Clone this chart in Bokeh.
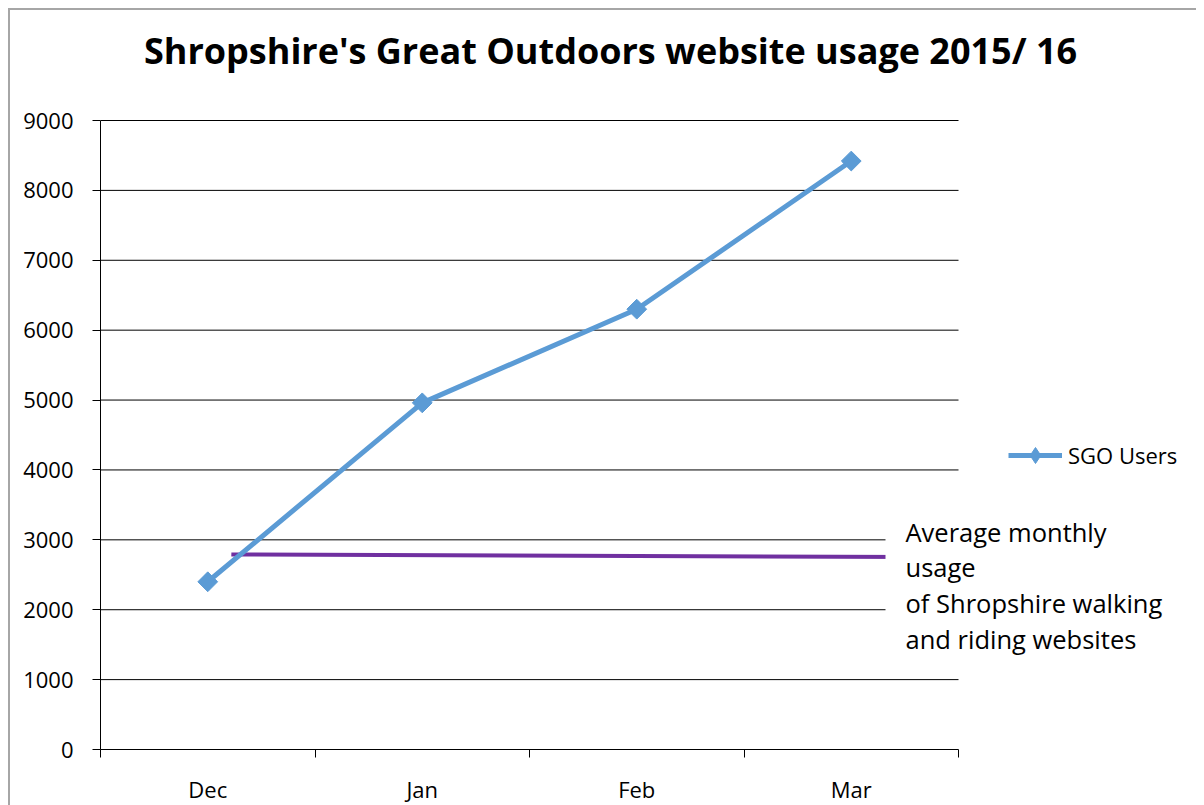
from bokeh.plotting import figure
from bokeh.models import Range1d, FixedTicker, Label, Legend, LegendItem
from bokeh.embed import file_html
from bokeh.resources import INLINE

# ---- data ----
months = ["Dec", "Jan", "Feb", "Mar"]
sgo_users = [2400, 4960, 6300, 8420]
avg_x = [0.61, 3.79]          # extent of the average-usage reference line (category units)
avg_usage = [2790, 2755]      # average monthly usage of other walking/riding sites
y_ticks = [0, 1000, 2000, 3000, 4000, 5000, 6000, 7000, 8000, 9000]
title_text = "Shropshire's Great Outdoors website usage 2015/ 16"
series_name = "SGO Users"
note_text = "Average monthly\nusage\nof Shropshire walking\nand riding websites"

FONT = "Open Sans"
BLUE = "#5B9BD5"
PURPLE = "#7030A0"

n = len(months)
xs = [i + 0.5 for i in range(n)]
y_max = y_ticks[-1]

# the frame is extended right and up so that the title, legend and note
# (which sit outside the plotting area) are not clipped
PLOT_W, PLOT_H = 858, 629       # visible plotting area
FRAME_W, FRAME_H = 1096, 739
x_end = n * FRAME_W / PLOT_W
y_end = y_max * FRAME_H / PLOT_H

p = figure(
    frame_width=FRAME_W, frame_height=FRAME_H,
    min_border_left=90, min_border_top=0, min_border_right=0, min_border_bottom=54,
    x_range=Range1d(0, x_end), y_range=Range1d(0, y_end),
    output_backend="svg", toolbar_location=None,
)
p.styles = {"margin-left": "8px", "margin-top": "8px",
            "border-left": "2px solid #a6a6a6", "border-top": "2px solid #a6a6a6"}
p.outline_line_color = None
p.background_fill_color = "white"
p.border_fill_color = "white"

# axes
p.xaxis.ticker = FixedTicker(ticks=xs, minor_ticks=list(range(n + 1)))
p.xaxis.major_label_overrides = {x: m for x, m in zip(xs, months)}
p.xaxis.bounds = (0, n)
p.xaxis.major_tick_out = 0
p.xaxis.major_tick_in = 0
p.xaxis.minor_tick_out = 8
p.xaxis.minor_tick_in = 0
p.xaxis.minor_tick_line_color = "black"
p.xaxis.axis_line_color = "black"
p.xaxis.major_label_standoff = 16

p.yaxis.ticker = FixedTicker(ticks=y_ticks)
p.yaxis.bounds = (0, y_max)
p.yaxis.major_tick_out = 8
p.yaxis.major_tick_in = 0
p.yaxis.minor_tick_line_color = None
p.yaxis.major_tick_line_color = "black"
p.yaxis.axis_line_color = "black"
p.yaxis.major_label_standoff = 19

for ax in (p.xaxis, p.yaxis):
    ax.major_label_text_font = FONT
    ax.major_label_text_font_size = "22px"
    ax.major_label_text_color = "black"
    ax.axis_line_width = 1

p.xgrid.grid_line_color = None
p.ygrid.grid_line_color = None

# horizontal grid lines over the category span only
p.segment(x0=[0] * (len(y_ticks) - 1), x1=[n] * (len(y_ticks) - 1),
          y0=y_ticks[1:], y1=y_ticks[1:], line_color="black", line_width=1)

# average reference line
p.line(avg_x, avg_usage, line_color=PURPLE, line_width=4)

# series
ln = p.line(xs, sgo_users, line_color=BLUE, line_width=5)
# diamond glyph used for the legend (hidden under the rotated-square markers)
leg_mk = p.scatter(xs, sgo_users, marker="diamond", size=12,
                   fill_color=BLUE, line_color=BLUE)
mk = p.scatter(xs, sgo_users, marker="square", angle=0.785398, size=14,
               fill_color=BLUE, line_color=BLUE)

legend = Legend(
    items=[LegendItem(label=series_name, renderers=[ln, leg_mk])],
    location=(908, 274), orientation="vertical",
    padding=0, margin=0, spacing=0,
    glyph_width=54, glyph_height=40, label_standoff=6,
    label_text_font=FONT, label_text_font_size="22px", label_text_color="black",
    border_line_color=None, background_fill_alpha=0,
)
p.add_layout(legend)

# annotation text box (white background covers grid lines)
note = Label(
    x=785, y=235, x_units="screen", y_units="screen",
    text=note_text, text_font=FONT, text_font_size="25.5px", text_color="black",
    text_align="left", text_baseline="top", text_line_height=1.05,
    background_fill_color="white", padding=(20, 8, 0, 21),
)
p.add_layout(note)

# chart title
title = Label(
    x=510, y=699, x_units="screen", y_units="screen",
    text=title_text, text_font=FONT, text_font_size="36px", text_font_style="bold",
    text_color="black", text_align="center", text_baseline="alphabetic",
)
p.add_layout(title)

open("out.html", "w").write(file_html(p, INLINE))
